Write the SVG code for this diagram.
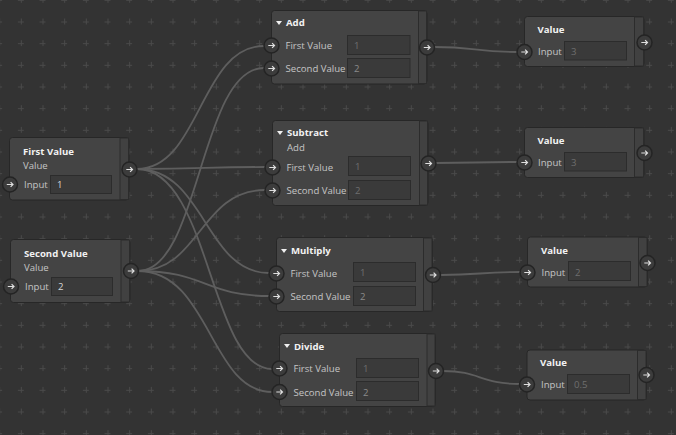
<svg xmlns="http://www.w3.org/2000/svg" width="676" height="435" viewBox="0 0 676 435">
<style>
.bg{fill:#333333}
.node{fill:#444444;stroke:#272727;stroke-width:1}
.strip{fill:#414141;stroke:#2c2c2c;stroke-width:1}
.box{fill:#3a3a3a;stroke:#2c2c2c;stroke-width:1}
.title{font-family:"Open Sans","Noto Sans",sans-serif;font-size:9.6px;font-weight:bold;fill:#f2f2f2}
.lbl{font-family:"Open Sans","Noto Sans",sans-serif;font-size:9.6px;fill:#c4c4c4}
.val{font-family:"Open Sans","Noto Sans",sans-serif;font-size:9.6px;fill:#d6d6d6}
.dim{font-family:"Open Sans","Noto Sans",sans-serif;font-size:9.6px;fill:#6e6e6e}
.wire{fill:none;stroke:#5e5e5e;stroke-width:1.8}
.tri{fill:#f0f0f0}
.cross{stroke:#4a4a4a;stroke-width:1;shape-rendering:crispEdges}
</style>
<defs>
<pattern id="grid" patternUnits="userSpaceOnUse" x="10" y="-11" width="21.667" height="21.667">
<path class="cross" d="M8 11.5H14M11.5 8V14"/>
</pattern>
<g id="port">
<circle r="7.5" fill="#3c3c3c" stroke="#242424" stroke-width="1.5"/>
<path d="M-3.2 0H3M0.6-2.4L3 0L0.6 2.4" fill="none" stroke="#e0e0e0" stroke-width="1.2"/>
</g>
</defs>
<rect class="bg" width="676" height="435"/>
<rect fill="url(#grid)" width="676" height="435"/>

<g id="connectors">
<path class="wire" d="M137 169 C200 169 200 46 264 46"/>
<path class="wire" d="M137 169 C205 169 205 167 265 167"/>
<path class="wire" d="M137 169 C205 169 205 273 269 273"/>
<path class="wire" d="M137 169 C210 169 210 369 272 369"/>
<path class="wire" d="M138 271 C200 271 200 68 264 68"/>
<path class="wire" d="M138 271 C200 271 200 190 265 190"/>
<path class="wire" d="M138 271 C205 271 205 296 269 296"/>
<path class="wire" d="M138 271 C210 271 210 392 272 392"/>
<path class="wire" d="M434 47 C475 47 475 52 517 52"/>
<path class="wire" d="M436 163 C475 163 475 162 517 162"/>
<path class="wire" d="M441 275 C480 275 480 272 520 272"/>
<path class="wire" d="M443 371 C480 371 480 384 520 384"/>
</g>

<g id="first-value">
<rect class="node" x="9.5" y="137.5" width="119.5" height="62.5" rx="3"/>
<rect class="strip" x="120" y="138" width="8.5" height="61.5"/>
<text class="title" x="23" y="155">First Value</text>
<text class="lbl" x="23" y="169">Value</text>
<text class="lbl" x="24" y="188">Input</text>
<rect class="box" x="50.5" y="175.5" width="61" height="18"/>
<text class="val" x="57" y="188">1</text>
<use href="#port" x="10" y="184.5"/>
<use href="#port" x="129.5" y="169.5"/>
</g>

<g id="second-value">
<rect class="node" x="10.5" y="239.5" width="119.5" height="63" rx="3"/>
<rect class="strip" x="121" y="240" width="8.5" height="62"/>
<text class="title" x="24" y="257">Second Value</text>
<text class="lbl" x="24" y="271">Value</text>
<text class="lbl" x="25" y="290">Input</text>
<rect class="box" x="51.5" y="277.5" width="61" height="18"/>
<text class="val" x="58" y="290">2</text>
<use href="#port" x="11" y="286.5"/>
<use href="#port" x="131" y="271"/>
</g>

<g id="add">
<rect class="node" x="271.5" y="10.5" width="155.5" height="73.5" rx="3"/>
<rect class="strip" x="418.5" y="11" width="8" height="72.5"/>
<path class="tri" d="M276 21H282L279 25Z"/>
<text class="title" x="286" y="26">Add</text>
<text class="lbl" x="285.5" y="48.5">First Value</text>
<rect class="box" x="347.5" y="35.5" width="62.5" height="19"/>
<text class="dim" x="354" y="48.5">1</text>
<text class="lbl" x="285.5" y="71.5">Second Value</text>
<rect class="box" x="347.5" y="58.5" width="62.5" height="19"/>
<text class="dim" x="354" y="71.5" style="fill:#8a8a8a">2</text>
<use href="#port" x="271.5" y="45.5"/>
<use href="#port" x="271.5" y="68.5"/>
<use href="#port" x="427" y="47.5"/>
</g>

<g id="subtract">
<rect class="node" x="272.5" y="120.5" width="155.5" height="85" rx="3"/>
<rect class="strip" x="419.5" y="121" width="8" height="84"/>
<path class="tri" d="M277 131H283L280 135Z"/>
<text class="title" x="287" y="136">Subtract</text>
<text class="lbl" x="287" y="150.5">Add</text>
<text class="lbl" x="286.5" y="170.5">First Value</text>
<rect class="box" x="348.5" y="156.5" width="62" height="19"/>
<text class="dim" x="355" y="170">1</text>
<text class="lbl" x="286.5" y="194">Second Value</text>
<rect class="box" x="348.5" y="180.5" width="62" height="19"/>
<text class="dim" x="355" y="194">2</text>
<use href="#port" x="272.5" y="167.5"/>
<use href="#port" x="272.5" y="190.5"/>
<use href="#port" x="428.5" y="163.5"/>
</g>

<g id="multiply">
<rect class="node" x="276.5" y="237.5" width="156" height="74" rx="3"/>
<rect class="strip" x="423.5" y="238" width="8.5" height="73"/>
<path class="tri" d="M281 249H287L284 253Z"/>
<text class="title" x="291" y="254">Multiply</text>
<text class="lbl" x="290.5" y="276.5">First Value</text>
<rect class="box" x="353.5" y="262.5" width="62" height="19"/>
<text class="dim" x="360" y="276">1</text>
<text class="lbl" x="290.5" y="300">Second Value</text>
<rect class="box" x="353.5" y="286.5" width="62" height="19"/>
<text class="dim" x="360" y="300" style="fill:#8a8a8a">2</text>
<use href="#port" x="276.5" y="273.5"/>
<use href="#port" x="276.5" y="296.5"/>
<use href="#port" x="433" y="275"/>
</g>

<g id="divide">
<rect class="node" x="279.5" y="333.5" width="156" height="73" rx="3"/>
<rect class="strip" x="427" y="334" width="8" height="72"/>
<path class="tri" d="M284 344H290L287 348Z"/>
<text class="title" x="294" y="349.5">Divide</text>
<text class="lbl" x="293.5" y="372">First Value</text>
<rect class="box" x="356.5" y="358.5" width="62" height="19"/>
<text class="dim" x="363" y="372">1</text>
<text class="lbl" x="293.5" y="395.5">Second Value</text>
<rect class="box" x="356.5" y="381.5" width="62" height="19"/>
<text class="dim" x="363" y="395.5" style="fill:#8a8a8a">2</text>
<use href="#port" x="279.5" y="368.5"/>
<use href="#port" x="279.5" y="392"/>
<use href="#port" x="436" y="371"/>
</g>

<g id="value-1">
<rect class="node" x="524.5" y="16.5" width="119.5" height="50" rx="3"/>
<rect class="strip" x="634.5" y="17" width="9" height="49"/>
<text class="title" x="537.5" y="32.5">Value</text>
<text class="lbl" x="538" y="55">Input</text>
<rect class="box" x="564.5" y="41.5" width="62" height="18.5"/>
<text class="dim" x="571" y="55">3</text>
<use href="#port" x="524.5" y="52"/>
<use href="#port" x="644.5" y="42.5"/>
</g>

<g id="value-2">
<rect class="node" x="524.5" y="127.5" width="119.5" height="50" rx="3"/>
<rect class="strip" x="634.5" y="128" width="9" height="49"/>
<text class="title" x="537.5" y="143.5">Value</text>
<text class="lbl" x="538" y="166">Input</text>
<rect class="box" x="564.5" y="152.5" width="62" height="18.5"/>
<text class="dim" x="571" y="166">3</text>
<use href="#port" x="524.5" y="162.5"/>
<use href="#port" x="644.5" y="153"/>
</g>

<g id="value-3">
<rect class="node" x="527.5" y="237" width="120" height="50" rx="3"/>
<rect class="strip" x="638.5" y="237.5" width="8.5" height="49"/>
<text class="title" x="541" y="253.5">Value</text>
<text class="lbl" x="541.5" y="276">Input</text>
<rect class="box" x="568.5" y="261.5" width="62" height="19"/>
<text class="dim" x="575" y="276">2</text>
<use href="#port" x="527.5" y="272.5"/>
<use href="#port" x="647.5" y="263"/>
</g>

<g id="value-4">
<rect class="node" x="527" y="350" width="119.5" height="50" rx="3"/>
<rect class="strip" x="637.5" y="350.5" width="8.5" height="49"/>
<text class="title" x="540" y="366">Value</text>
<text class="lbl" x="541" y="388">Input</text>
<rect class="box" x="567.5" y="374.5" width="62" height="19"/>
<text class="dim" x="574" y="388">0.5</text>
<use href="#port" x="527" y="384.5"/>
<use href="#port" x="646.5" y="375"/>
</g>
</svg>
